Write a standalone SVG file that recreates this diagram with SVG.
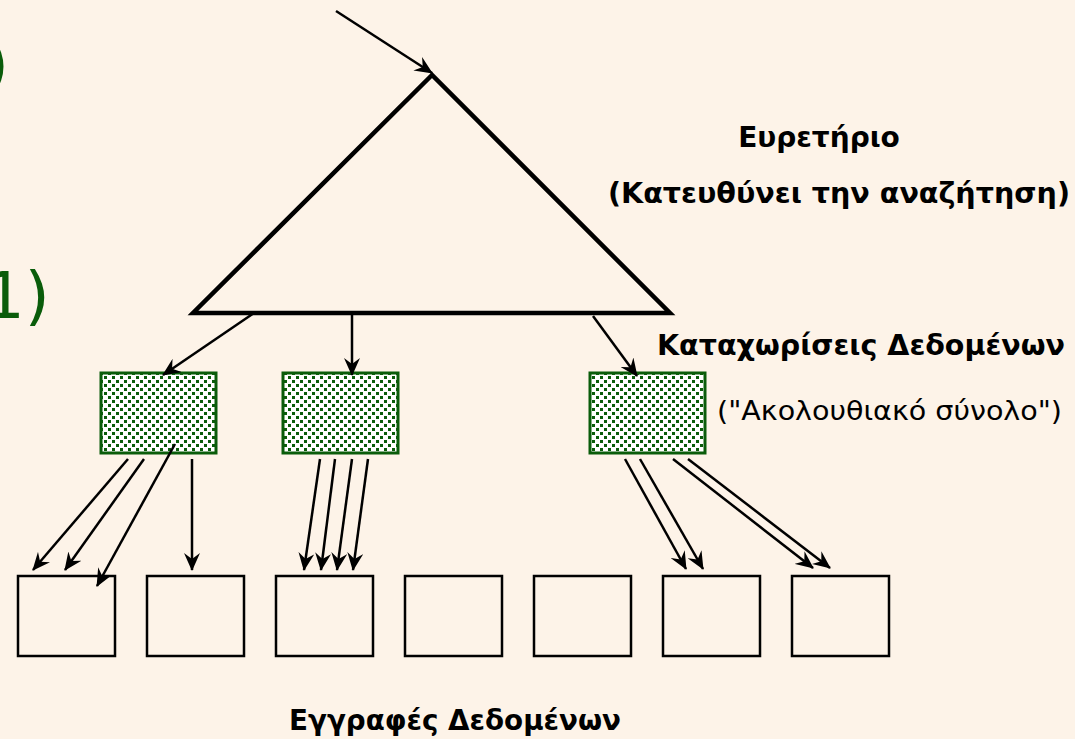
<svg xmlns="http://www.w3.org/2000/svg" width="1075" height="739" viewBox="0 0 1075 739">
<style>
.bg{fill:#fdf3e8}
.lbl{font-family:"DejaVu Sans","Noto Sans",sans-serif;fill:#000}
.b{font-weight:bold;font-size:28px}
.r{font-size:26px}
.green{font-family:"DejaVu Sans",sans-serif;font-size:64px;fill:#0a5c0a}
.conn line{stroke:#000;stroke-width:2.5;marker-end:url(#ah)}
.entry{fill:url(#dots);stroke:#0a5c0a;stroke-width:3}
.rec{fill:none;stroke:#000;stroke-width:2.5}
</style>
<defs>
<marker id="ah" markerUnits="userSpaceOnUse" markerWidth="18" markerHeight="16" viewBox="0 0 18 16" refX="17" refY="8" orient="auto">
<path d="M0,0 L18,8 L0,16 L6,8 z" fill="#000"/>
</marker>
<pattern id="dots" patternUnits="userSpaceOnUse" width="8" height="8">
<rect width="8" height="8" fill="#fff"/>
<rect x="0" y="0" width="3" height="3" fill="#0a5c0a"/>
<rect x="4" y="4" width="3" height="3" fill="#0a5c0a"/>
</pattern>
</defs>
<rect class="bg" width="1075" height="739"/>
<text class="green" x="-16" y="87">)</text>
<text class="green" x="-16" y="318">1)</text>
<g id="index">
<polygon points="432,75 193,313 670,313" fill="none" stroke="#000" stroke-width="4.5" stroke-linejoin="miter"/>
</g>
<g id="entry1"><rect class="entry" x="101" y="373" width="115" height="80"/></g>
<g id="entry2"><rect class="entry" x="283" y="373" width="115" height="80"/></g>
<g id="entry3"><rect class="entry" x="590" y="373" width="115" height="80"/></g>
<g id="rec1"><rect class="rec" x="18" y="576" width="97" height="80"/></g>
<g id="rec2"><rect class="rec" x="147" y="576" width="97" height="80"/></g>
<g id="rec3"><rect class="rec" x="276" y="576" width="97" height="80"/></g>
<g id="rec4"><rect class="rec" x="405" y="576" width="97" height="80"/></g>
<g id="rec5"><rect class="rec" x="534" y="576" width="97" height="80"/></g>
<g id="rec6"><rect class="rec" x="663" y="576" width="97" height="80"/></g>
<g id="rec7"><rect class="rec" x="792" y="576" width="97" height="80"/></g>
<g id="connectors" class="conn">
<line x1="336" y1="11" x2="432" y2="73"/>
<line x1="254" y1="313" x2="163" y2="375"/>
<line x1="352" y1="313" x2="352" y2="375"/>
<line x1="593" y1="316" x2="637" y2="376"/>
<line x1="128" y1="459" x2="33" y2="570"/>
<line x1="144" y1="459" x2="65" y2="570"/>
<line x1="175" y1="444" x2="97" y2="586"/>
<line x1="192" y1="459" x2="192" y2="570"/>
<line x1="320" y1="459" x2="304" y2="570"/>
<line x1="335" y1="459" x2="321" y2="570"/>
<line x1="352" y1="459" x2="337" y2="570"/>
<line x1="368" y1="459" x2="353" y2="570"/>
<line x1="625" y1="459" x2="686" y2="569"/>
<line x1="640" y1="459" x2="703" y2="569"/>
<line x1="673" y1="459" x2="813" y2="568"/>
<line x1="688" y1="459" x2="830" y2="568"/>
</g>
<g id="labels">
<text class="lbl b" x="819" y="147" text-anchor="middle">Ευρετήριο</text>
<text class="lbl b" x="608" y="203" textLength="462" lengthAdjust="spacingAndGlyphs">(Κατευθύνει την αναζήτηση)</text>
<text class="lbl b" x="657" y="355" textLength="408" lengthAdjust="spacingAndGlyphs">Καταχωρίσεις Δεδομένων</text>
<text class="lbl r" x="717" y="420" textLength="345" lengthAdjust="spacingAndGlyphs">("Ακολουθιακό σύνολο")</text>
<text class="lbl b" x="289" y="730" textLength="332" lengthAdjust="spacingAndGlyphs">Εγγραφές Δεδομένων</text>
</g>
</svg>
